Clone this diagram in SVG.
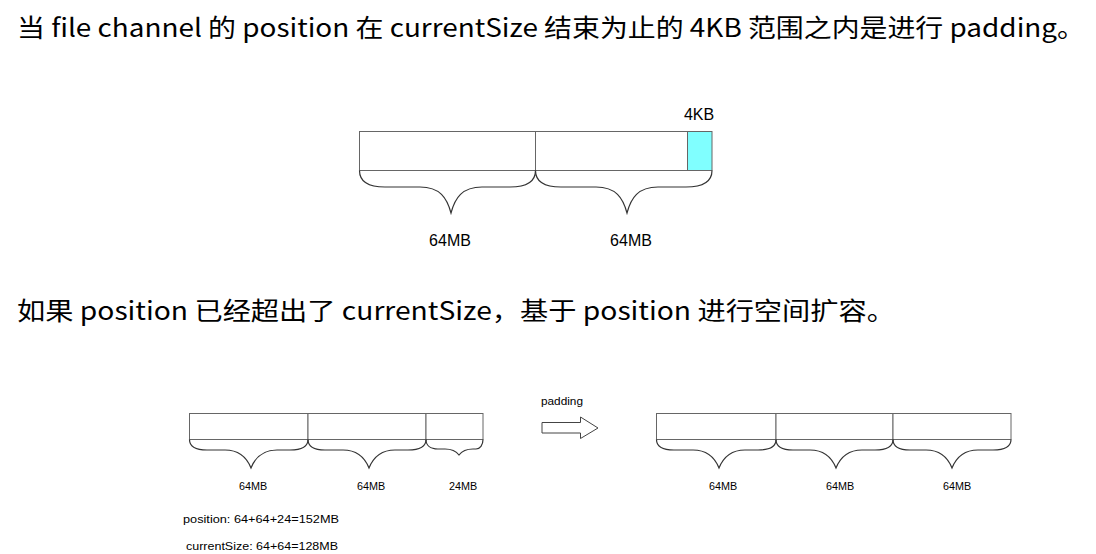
<svg xmlns="http://www.w3.org/2000/svg" width="1096" height="554" viewBox="0 0 1096 554">
<style>
.h{font-family:"Noto Sans CJK SC","Noto Sans",sans-serif;font-size:25px;fill:#000}
.seg{fill:#fff;stroke:#666;stroke-width:1}
.brace{fill:none;stroke:#333;stroke-width:1.2}
.lbl{font-family:"Liberation Sans",Arial,sans-serif;fill:#000;text-anchor:middle}
.big{font-size:16px}
.sm{font-size:10.8px}
.note{font-family:"Liberation Sans",Arial,sans-serif;font-size:11.5px;fill:#000}
</style>
<rect width="1096" height="554" fill="#fff"/>
<g id="heading1"><text class="h" x="17" y="37" textLength="1068" lengthAdjust="spacingAndGlyphs">当 file channel 的 position 在 currentSize 结束为止的 4KB 范围之内是进行 padding。</text></g>
<g id="heading2"><text class="h" x="17" y="320" textLength="878" lengthAdjust="spacingAndGlyphs">如果 position 已经超出了 currentSize，基于 position 进行空间扩容。</text></g>

<g id="top-bar">
<rect class="seg" x="359.5" y="131.5" width="176" height="39"/>
<rect class="seg" x="535.5" y="131.5" width="152" height="39"/>
<rect x="687.5" y="131.5" width="24.5" height="39" fill="#80ffff" stroke="#666"/>
<text class="lbl big" x="699" y="120">4KB</text>
</g>
<g id="bl-bar">
<rect class="seg" x="189.5" y="413.5" width="118.5" height="26"/>
<rect class="seg" x="308" y="413.5" width="118" height="26"/>
<rect class="seg" x="426" y="413.5" width="57" height="26"/>
</g>
<g id="br-bar">
<rect class="seg" x="656.5" y="413.5" width="119.5" height="26"/>
<rect class="seg" x="776" y="413.5" width="117" height="26"/>
<rect class="seg" x="893" y="413.5" width="118" height="26"/>
</g>
<g id="padding-arrow">
<text class="note" x="541" y="405" textLength="42" lengthAdjust="spacingAndGlyphs">padding</text>
<path d="M542,422.5 H580.5 V417 L598,428 L580.5,438.5 V433 H542 Z" fill="#fff" stroke="#444" stroke-width="1"/>
</g>

<g id="connectors">
<path class="brace" d="M359.5,170.5 C359.5,180 366,187 385,187 L420,187 C440,187 447,198 451,213 C455,198 462,187 482,187 L510,187 C529,187 535.5,180 535.5,170.5"/>
<path class="brace" d="M535.5,170.5 C535.5,180 542,187 561,187 L596,187 C616,187 623,198 627,213 C631,198 638,187 658,187 L686,187 C705,187 712,180 712,170.5"/>
<path class="brace" d="M189.5,439.5 C189.5,446 194,450 207,450 L225,450 C240,450 247,458 251,468 C255,458 262,450 277,450 L290,450 C303,450 308,446 308,439.5"/>
<path class="brace" d="M308,439.5 C308,446 312,450 325,450 L343,450 C358,450 365,458 369,468 C373,458 380,450 395,450 L408,450 C421,450 426,446 426,439.5"/>
<path class="brace" d="M426,439.5 C426,445 430,449 438,449 L445,449 C452,449 456,451 459,455 C462,451 466,449 473,449 L476,449 C480,449 483,445 483,439.5"/>
<path class="brace" d="M656.5,439.5 C656.5,446 661,450 674,450 L693,450 C708,450 715,458 719,468 C723,458 730,450 745,450 L758,450 C771,450 776,446 776,439.5"/>
<path class="brace" d="M776,439.5 C776,446 780,450 793,450 L810,450 C825,450 832,458 836,468 C840,458 847,450 862,450 L875,450 C888,450 893,446 893,439.5"/>
<path class="brace" d="M893,439.5 C893,446 897,450 910,450 L926,450 C941,450 948,458 952,468 C956,458 963,450 978,450 L993,450 C1006,450 1011,446 1011,439.5"/>
</g>

<g id="labels">
<text class="lbl big" x="450" y="246">64MB</text>
<text class="lbl big" x="631" y="246">64MB</text>
<text class="lbl sm" x="253" y="490">64MB</text>
<text class="lbl sm" x="371" y="490">64MB</text>
<text class="lbl sm" x="463" y="490">24MB</text>
<text class="lbl sm" x="723" y="490">64MB</text>
<text class="lbl sm" x="840" y="490">64MB</text>
<text class="lbl sm" x="957" y="490">64MB</text>
<text class="note" x="183" y="523" textLength="156" lengthAdjust="spacingAndGlyphs">position: 64+64+24=152MB</text>
<text class="note" x="186" y="550" textLength="152" lengthAdjust="spacingAndGlyphs">currentSize: 64+64=128MB</text>
</g>
</svg>
